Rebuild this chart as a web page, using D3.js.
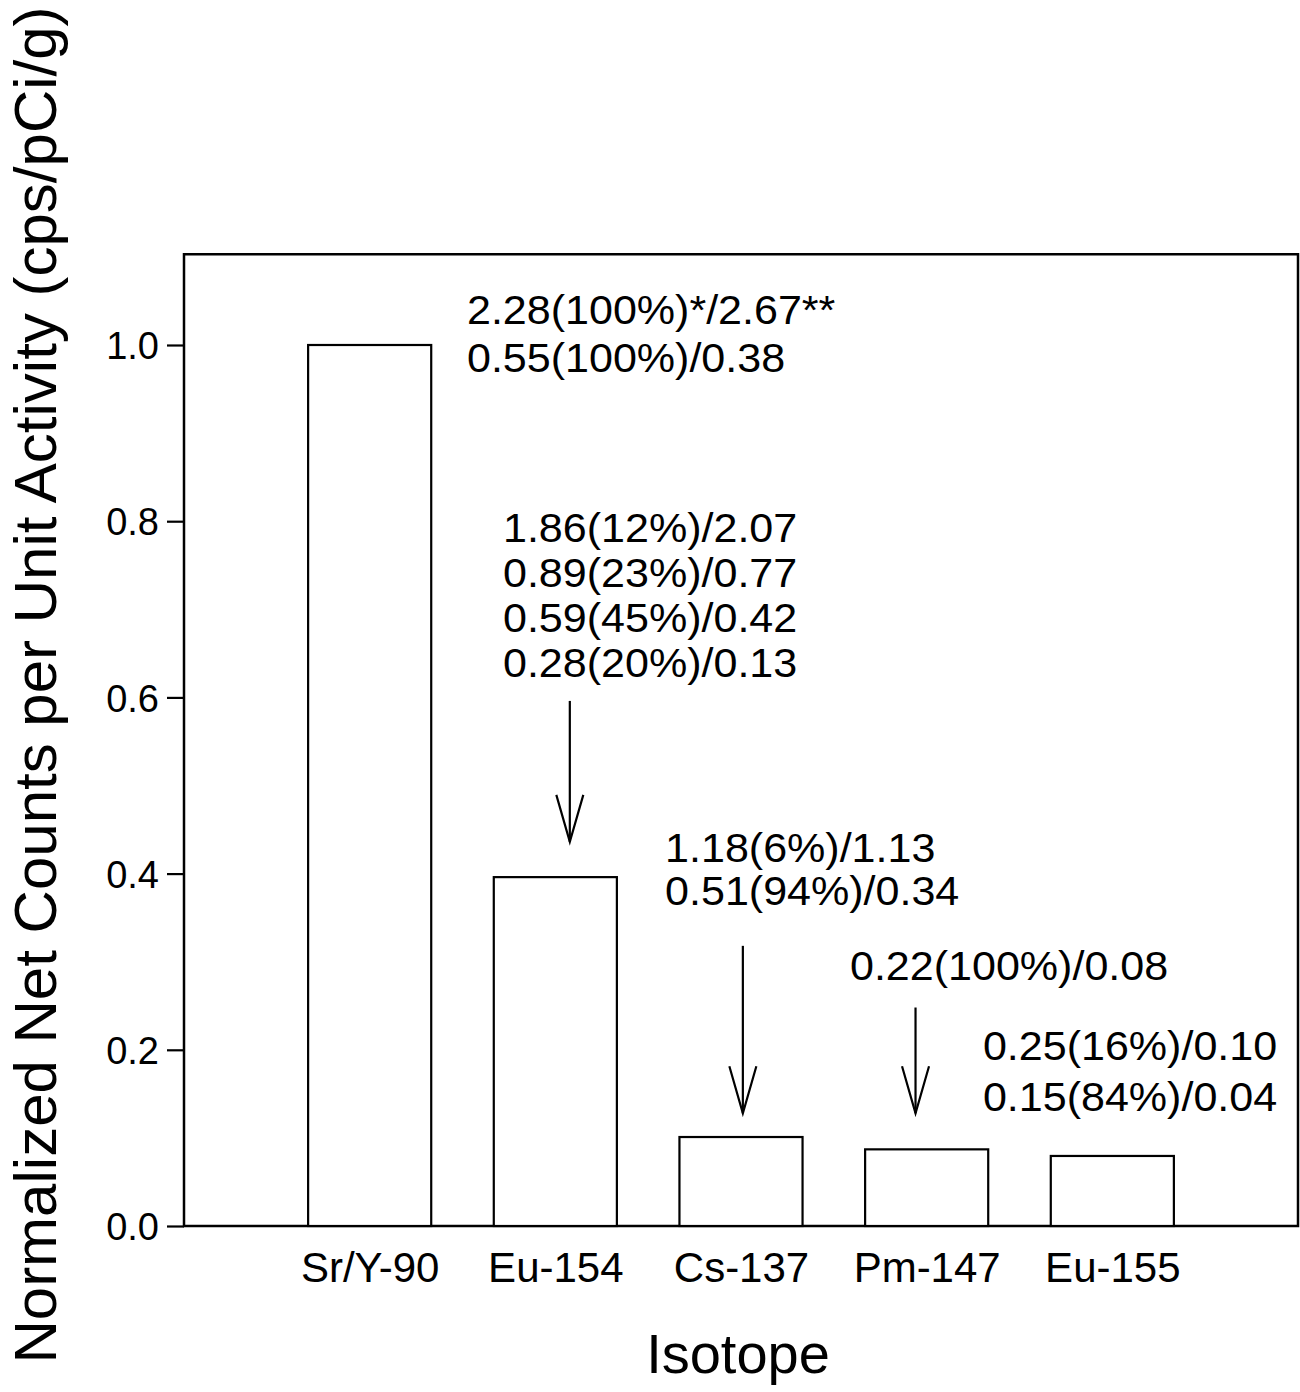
<!DOCTYPE html>
<html>
<head>
<meta charset="utf-8">
<script src="https://cdn.jsdelivr.net/npm/d3@7/dist/d3.min.js"></script>
<style>
  html, body { margin: 0; padding: 0; background: #fff; }
  svg { display: block; }
  text { font-family: "Liberation Sans", Arial, Helvetica, sans-serif; fill: #000; }
</style>
</head>
<body>
<svg id="chart" width="1300" height="1392"></svg>
<script>
// Isotopes on the x axis and their normalized net counts
const isotopes = ["Sr/Y-90", "Eu-154", "Cs-137", "Pm-147", "Eu-155"];
const normCounts = [1.0, 0.396, 0.101, 0.087, 0.0795];
const yTicks = [0.0, 0.2, 0.4, 0.6, 0.8, 1.0];

// Beta energy notes per isotope: Emax(intensity)/Eavg, MeV
const energyNotes = [
  ["2.28(100%)*/2.67**", "0.55(100%)/0.38"],
  ["1.86(12%)/2.07", "0.89(23%)/0.77", "0.59(45%)/0.42", "0.28(20%)/0.13"],
  ["1.18(6%)/1.13", "0.51(94%)/0.34"],
  ["0.22(100%)/0.08"],
  ["0.25(16%)/0.10", "0.15(84%)/0.04"]
];

// Where each note block starts (category units, value units of first baseline)
const noteAnchorX = [1.524, 1.718, 2.591, 3.587, 4.303];
const noteAnchorY = [1.024, 0.776, 0.413, 0.279, 0.188];
const noteGap = [48, 45, 43, 46, 51];

// Pointer arrows: category position, start value, tip value
const arrowIdx = [1, 2, 3];
const arrowX = [2.078, 3.01, 3.94];
const arrowFrom = [0.596, 0.318, 0.248];
const arrowTo = [0.436, 0.128, 0.128];

const svg = d3.select("#chart");

const plot = { left: 184, right: 1298, bottom: 1226 };
const x = d3.scaleLinear().domain([0, isotopes.length + 1]).range([plot.left, plot.right]);
const y = d3.scaleLinear().domain([0, 1]).range([plot.bottom, 345]);
const yTop = 1.103;
const barW = x(0.663) - x(0);

// Plot frame
svg.append("rect")
  .attr("x", x(0)).attr("y", y(yTop))
  .attr("width", x(isotopes.length + 1) - x(0))
  .attr("height", y(0) - y(yTop))
  .attr("fill", "none").attr("stroke", "#000").attr("stroke-width", 2.5);

// Y axis ticks and labels
const yAxis = d3.axisLeft(y).tickValues(yTicks).tickFormat(d3.format(".1f")).tickSizeOuter(0).tickSize(17).tickPadding(8);
const gy = svg.append("g").attr("transform", `translate(${x(0)},0)`).call(yAxis);
gy.select(".domain").remove();
gy.selectAll(".tick line").attr("stroke", "#000").attr("stroke-width", 2.2);
gy.selectAll(".tick text").attr("font-size", 38).attr("dy", "0.36em")
  .style("font-family", '"Liberation Sans", Arial, sans-serif');

// Category labels
const xAxis = d3.axisBottom(x).tickValues(d3.range(1, isotopes.length + 1))
  .tickFormat(i => isotopes[i - 1]).tickSize(0).tickPadding(26);
const gx = svg.append("g").attr("transform", `translate(0,${y(0)})`).call(xAxis);
gx.select(".domain").remove();
gx.selectAll(".tick text").attr("font-size", 42)
  .style("font-family", '"Liberation Sans", Arial, sans-serif');

// Bars
svg.append("g").selectAll("rect").data(normCounts).join("rect")
  .attr("x", (d, i) => x(i + 1) - barW / 2)
  .attr("y", d => y(d))
  .attr("width", barW)
  .attr("height", d => y(0) - y(d))
  .attr("fill", "#fff").attr("stroke", "#000").attr("stroke-width", 2.2);

// Energy note blocks (set slightly wide, as in the original typesetting)
energyNotes.forEach((lines, i) => {
  const t = svg.append("text")
    .attr("transform", `translate(${x(noteAnchorX[i])},${y(noteAnchorY[i])}) scale(1.05,1)`)
    .attr("font-size", 41);
  lines.forEach((s, k) => {
    t.append("tspan").attr("x", 0).attr("dy", k === 0 ? 0 : noteGap[i]).text(s);
  });
});

// Arrows pointing down to bars
const arrows = svg.append("g").attr("stroke", "#000").attr("stroke-width", 2.2).attr("fill", "none");
arrowIdx.forEach((b, k) => {
  const ax = x(arrowX[k]);
  const y0 = y(arrowFrom[k]);
  const y1 = y(arrowTo[k]);
  arrows.append("line").attr("x1", ax).attr("y1", y0).attr("x2", ax).attr("y2", y1);
  arrows.append("path").attr("d", `M${ax - 13.5},${y1 - 47} L${ax},${y1} L${ax + 13.5},${y1 - 47}`);
});

// Axis titles
svg.append("text")
  .attr("x", (plot.left + plot.right) / 2 - 3).attr("y", 1373)
  .attr("text-anchor", "middle").attr("font-size", 56)
  .text("Isotope");

svg.append("text")
  .attr("transform", "translate(56,685) rotate(-90)")
  .attr("text-anchor", "middle").attr("font-size", 60)
  .text("Normalized Net Counts per Unit Activity (cps/pCi/g)");
</script>
</body>
</html>
